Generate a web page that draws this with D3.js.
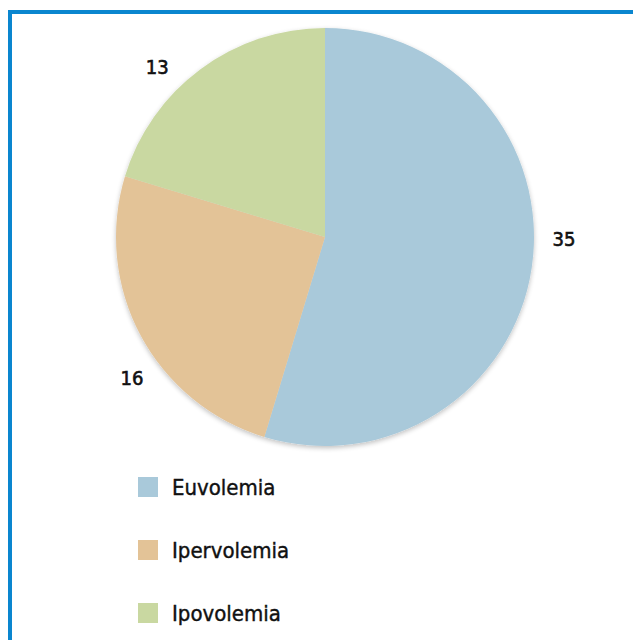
<!DOCTYPE html>
<html>
<head>
<meta charset="utf-8">
<script src="https://cdn.jsdelivr.net/npm/d3@7"></script>
<style>
    html, body { margin: 0; padding: 0; background: #ffffff; }
    #chart { width: 633px; height: 640px; }
</style>
</head>
<body>
<div id="chart"></div>
<script>
// Data
const categories = ["Euvolemia", "Ipervolemia", "Ipovolemia"];
const values = [35, 16, 13];
const colors = ["#a9c9da", "#e3c397", "#c9d8a1"];

const width = 633;
const height = 640;
const cx = 325, cy = 237;
const radius = 209;

const svg = d3.select("#chart").append("svg")
    .attr("width", width)
    .attr("height", height)
    .style("font-family", "'DejaVu Sans Condensed', 'DejaVu Sans', sans-serif");

// Frame (only top and left edges are visible in the crop)
svg.append("rect")
    .attr("x", 10)
    .attr("y", 12)
    .attr("width", width + 20)
    .attr("height", height + 20)
    .attr("fill", "#ffffff")
    .attr("stroke", "#0a86cf")
    .attr("stroke-width", 4);

// Soft shadow under the pie
const defs = svg.append("defs");
const shadow = defs.append("filter").attr("id", "shadow")
    .attr("x", "-10%").attr("y", "-10%").attr("width", "120%").attr("height", "120%");
shadow.append("feGaussianBlur").attr("in", "SourceAlpha").attr("stdDeviation", 2.5);
shadow.append("feOffset").attr("dx", 0).attr("dy", 2).attr("result", "off");
shadow.append("feComponentTransfer").append("feFuncA").attr("type", "linear").attr("slope", 0.25);
const merge = shadow.append("feMerge");
merge.append("feMergeNode");
merge.append("feMergeNode").attr("in", "SourceGraphic");

const pie = d3.pie().sort(null).value(d => d);
const arcs = pie(values);
const arc = d3.arc().innerRadius(0).outerRadius(radius);

const g = svg.append("g")
    .attr("transform", `translate(${cx},${cy})`);

g.append("g")
    .attr("filter", "url(#shadow)")
    .selectAll("path")
    .data(arcs)
    .join("path")
    .attr("d", arc)
    .attr("fill", (d, i) => colors[i]);

// Value labels outside the pie, nudged a bit counter-clockwise
const labelR = 239;
const shift = -8 * Math.PI / 180;
g.selectAll("text.value")
    .data(arcs)
    .join("text")
    .attr("class", "value")
    .attr("x", d => labelR * Math.sin((d.startAngle + d.endAngle) / 2 + shift))
    .attr("y", d => -labelR * Math.cos((d.startAngle + d.endAngle) / 2 + shift))
    .attr("text-anchor", "middle")
    .attr("dominant-baseline", "central")
    .attr("font-size", 20)
    .attr("fill", "#111111")
    .attr("stroke", "#111111")
    .attr("stroke-width", 0.6)
    .text(d => d.data);

// Legend
const legendY = d3.scalePoint()
    .domain(categories)
    .range([487, 613]);

const legend = svg.append("g")
    .selectAll("g")
    .data(categories)
    .join("g")
    .attr("transform", d => `translate(138,${legendY(d)})`);

legend.append("rect")
    .attr("x", 0)
    .attr("y", -10)
    .attr("width", 20)
    .attr("height", 20)
    .attr("fill", (d, i) => colors[i]);

legend.append("text")
    .attr("x", 34)
    .attr("y", 0)
    .attr("dominant-baseline", "central")
    .attr("font-size", 22)
    .attr("fill", "#111111")
    .attr("stroke", "#111111")
    .attr("stroke-width", 0.4)
    .text(d => d);
</script>
</body>
</html>
